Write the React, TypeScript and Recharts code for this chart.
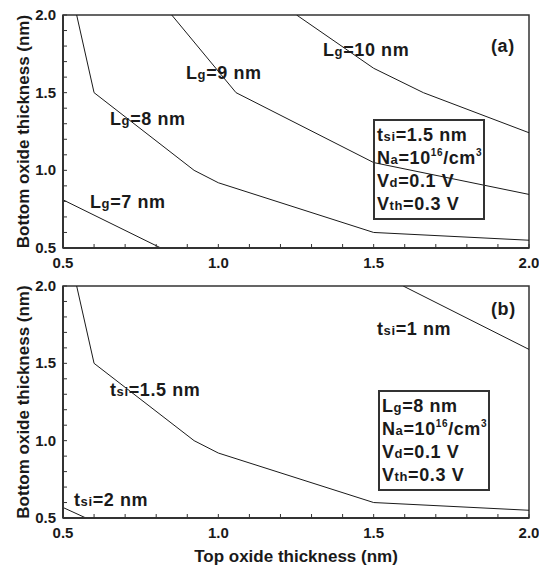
import React from 'react';
import { LineChart, Line, XAxis, YAxis, ReferenceArea } from 'recharts';

// tick positions (minor every 0.1, labels only on the majors)
const xTicks = [0.5, 0.6, 0.7, 0.8, 0.9, 1.0, 1.1, 1.2, 1.3, 1.4, 1.5, 1.6, 1.7, 1.8, 1.9, 2.0];
const yTicks = [0.5, 0.6, 0.7, 0.8, 0.9, 1.0, 1.1, 1.2, 1.3, 1.4, 1.5, 1.6, 1.7, 1.8, 1.9, 2.0];
const majorTicks = [0.5, 1.0, 1.5, 2.0];

// panel (a): tsi = 1.5 nm, curves for each gate length
const lg7Top = [0.5, 0.815];
const lg7Bottom = [0.81, 0.5];
const lg8Top = [0.544, 0.6, 0.922, 1.0, 1.5, 2.0];
const lg8Bottom = [2.0, 1.5, 1.0, 0.92, 0.6, 0.55];
const lg9Top = [0.85, 1.057, 1.5, 2.0];
const lg9Bottom = [2.0, 1.5, 1.05, 0.845];
const lg10Top = [1.252, 1.5, 1.66, 2.0];
const lg10Bottom = [2.0, 1.657, 1.5, 1.242];

// panel (b): Lg = 8 nm, curves for each silicon thickness
const tsi1Top = [1.595, 2.0];
const tsi1Bottom = [2.0, 1.59];
const tsi15Top = [0.544, 0.6, 0.922, 1.0, 1.5, 2.0];
const tsi15Bottom = [2.0, 1.5, 1.0, 0.92, 0.6, 0.55];
const tsi2Top = [0.5, 0.574];
const tsi2Bottom = [0.568, 0.5];

const toPoints = (xs: number[], ys: number[]) => xs.map((x, i) => ({ x, y: ys[i] }));

const FONT = '"Liberation Sans", Arial, Helvetica, sans-serif';
const INK = '#1a1a1a';
const AXIS = '#333';

// tick marks point inward; tickSize -4 + tickMargin 4 puts (x, y) on the axis line
const XTick = ({ x, y, payload }: any) => (
  <g>
    <line x1={x} x2={x} y1={y} y2={y - 4} stroke={AXIS} strokeWidth={1} />
    {majorTicks.includes(payload.value) && (
      <text x={x} y={y + 20} textAnchor="middle" fontFamily={FONT} fontWeight="bold" fontSize={15} fill={INK}>
        {payload.value.toFixed(1)}
      </text>
    )}
  </g>
);

const YTick = ({ x, y, payload }: any) => (
  <g>
    <line x1={x} x2={x + 4} y1={y} y2={y} stroke={AXIS} strokeWidth={1} />
    {majorTicks.includes(payload.value) && (
      <text x={x - 7} y={y + 5} textAnchor="end" fontFamily={FONT} fontWeight="bold" fontSize={15} fill={INK}>
        {payload.value.toFixed(1)}
      </text>
    )}
  </g>
);

const YTitle = ({ viewBox }: any) => {
  const cx = 23;
  const cy = viewBox.y + viewBox.height / 2;
  return (
    <text
      x={cx}
      y={cy}
      transform={`rotate(-90 ${cx} ${cy})`}
      textAnchor="middle"
      dominantBaseline="central"
      fontFamily={FONT}
      fontWeight="bold"
      fontSize={17}
      fill={INK}
    >
      Bottom oxide thickness (nm)
    </text>
  );
};

const XTitle = ({ viewBox }: any) => {
  const cx = viewBox.x + viewBox.width / 2;
  const y = viewBox.y + viewBox.height - 8;
  return (
    <text x={cx} y={y} textAnchor="middle" fontFamily={FONT} fontWeight="bold" fontSize={17} fill={INK}>
      Top oxide thickness (nm)
    </text>
  );
};

const Sub = ({ children }: any) => <span style={{ fontSize: 13 }}>{children}</span>;
const Sup = ({ children }: any) => (
  <span style={{ fontSize: 10, position: 'relative', top: -8 }}>{children}</span>
);

const labelStyle = (left: number, top: number): React.CSSProperties => ({
  position: 'absolute',
  left,
  top,
  fontFamily: FONT,
  fontWeight: 'bold',
  fontSize: 18,
  lineHeight: 1,
  letterSpacing: 0.6,
  color: INK,
  whiteSpace: 'nowrap',
});

const boxStyle = (left: number, top: number): React.CSSProperties => ({
  position: 'absolute',
  left,
  top,
  width: 112,
  height: 101,
  boxSizing: 'border-box',
  border: '2px solid #333',
  padding: '4px 0 0 2px',
  fontFamily: FONT,
  fontWeight: 'bold',
  fontSize: 18,
  lineHeight: '21.5px',
  letterSpacing: 0.6,
  color: INK,
  whiteSpace: 'nowrap',
});

function Panel({ lines, showXTitle, height, bottom }: any) {
  return (
    <LineChart width={539} height={height} margin={{ top: 15, right: 10, left: 0, bottom: 0 }}>
      <XAxis
        dataKey="x"
        type="number"
        domain={[0.5, 2.0]}
        ticks={xTicks}
        interval={0}
        allowDataOverflow
        height={bottom}
        tickSize={-4}
        tickMargin={4}
        tick={<XTick />}
        tickLine={false}
        stroke={AXIS}
        strokeWidth={2}
        label={showXTitle ? { content: XTitle } : undefined}
      />
      <YAxis
        type="number"
        domain={[0.5, 2.0]}
        ticks={yTicks}
        interval={0}
        allowDataOverflow
        width={63}
        tickSize={-4}
        tickMargin={4}
        tick={<YTick />}
        tickLine={false}
        stroke={AXIS}
        strokeWidth={2}
        label={{ content: YTitle }}
      />
      <ReferenceArea x1={0.5} x2={2.0} y1={0.5} y2={2.0} fill="none" stroke={AXIS} strokeWidth={1.5} />
      {lines.map((pts: any, i: number) => (
        <Line
          key={i}
          data={pts}
          dataKey="y"
          type="linear"
          stroke={INK}
          strokeWidth={1}
          dot={false}
          isAnimationActive={false}
        />
      ))}
    </LineChart>
  );
}

export default function App() {
  const panelA = [
    toPoints(lg7Top, lg7Bottom),
    toPoints(lg8Top, lg8Bottom),
    toPoints(lg9Top, lg9Bottom),
    toPoints(lg10Top, lg10Bottom),
  ];
  const panelB = [
    toPoints(tsi1Top, tsi1Bottom),
    toPoints(tsi15Top, tsi15Bottom),
    toPoints(tsi2Top, tsi2Bottom),
  ];

  return (
    <div style={{ position: 'absolute', left: 0, top: 0, width: 539, height: 570, background: '#fff' }}>
      <div style={{ position: 'absolute', left: 0, top: 0 }}>
        <Panel lines={panelA} height={270} bottom={22} showXTitle={false} />
      </div>
      <div style={{ position: 'absolute', left: 0, top: 271 }}>
        <Panel lines={panelB} height={299} bottom={52} showXTitle />
      </div>

      {/* panel (a) annotations */}
      <div style={labelStyle(323, 41)}>L<Sub>g</Sub>=10 nm</div>
      <div style={labelStyle(186, 64)}>L<Sub>g</Sub>=9 nm</div>
      <div style={labelStyle(110, 110)}>L<Sub>g</Sub>=8 nm</div>
      <div style={labelStyle(90, 193)}>L<Sub>g</Sub>=7 nm</div>
      <div style={labelStyle(491, 37)}>(a)</div>
      <div style={boxStyle(373, 119)}>
        <div>t<Sub>si</Sub>=1.5 nm</div>
        <div>N<Sub>a</Sub>=10<Sup>16</Sup>/cm<Sup>3</Sup></div>
        <div>V<Sub>d</Sub>=0.1 V</div>
        <div>V<Sub>th</Sub>=0.3 V</div>
      </div>

      {/* panel (b) annotations */}
      <div style={labelStyle(491, 300)}>(b)</div>
      <div style={labelStyle(377, 320)}>t<Sub>si</Sub>=1 nm</div>
      <div style={labelStyle(110, 381)}>t<Sub>si</Sub>=1.5 nm</div>
      <div style={labelStyle(74, 491)}>t<Sub>si</Sub>=2 nm</div>
      <div style={boxStyle(378, 390)}>
        <div>L<Sub>g</Sub>=8 nm</div>
        <div>N<Sub>a</Sub>=10<Sup>16</Sup>/cm<Sup>3</Sup></div>
        <div>V<Sub>d</Sub>=0.1 V</div>
        <div>V<Sub>th</Sub>=0.3 V</div>
      </div>
    </div>
  );
}
